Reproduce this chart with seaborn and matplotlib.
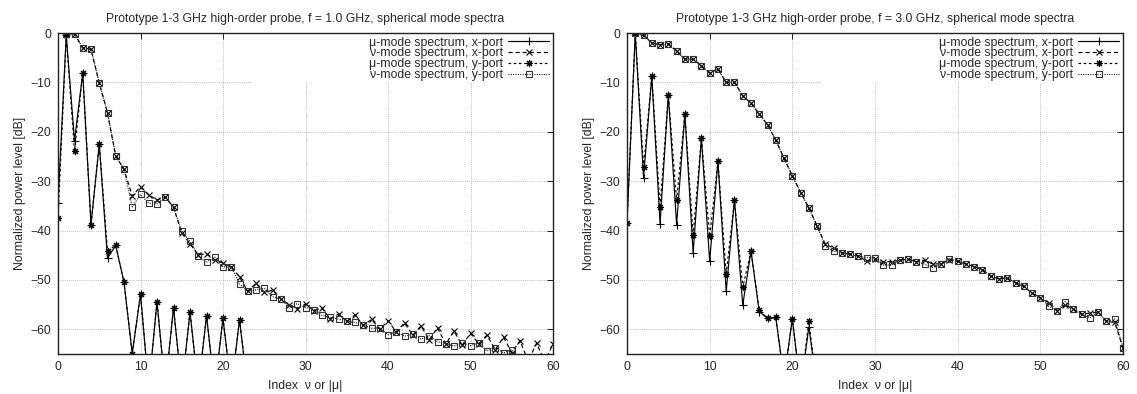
import numpy as np
import pandas as pd
import matplotlib
matplotlib.use("Agg")
import matplotlib.pyplot as plt
import seaborn as sns

# ---------------- data ----------------
# mu-mode index 0..23, nu-mode index 1..60
mu_idx = list(range(0, 24))
nu_idx = list(range(1, 61))

# f = 1.0 GHz
mu_x_1g = [-34.4, -0.5, -21.8, -8.1, -38.8, -22.5, -45.6, -43.0, -50.5, -64.9,
           -52.9, -72, -54.4, -72, -55.6, -72, -56.5, -72, -57.3, -72,
           -57.8, -72, -58.1, -72]
mu_y_1g = [-37.5, -0.5, -23.9, -8.1, -38.8, -22.5, -44.1, -43.0, -50.5, -64.9,
           -52.9, -72, -54.4, -72, -55.6, -72, -56.5, -72, -57.3, -72,
           -57.8, -72, -58.1, -72]
nu_x_1g = [-0.3, -0.2, -3.0, -3.3, -10.1, -16.2, -24.9, -27.6, -33.0, -31.1,
           -32.8, -33.8, -33.2, -35.3, -40.5, -42.7, -44.9, -44.7, -45.9, -46.6,
           -47.3, -49.4, -52.3, -50.7, -52.5, -52.1, -53.8, -55.0, -55.8, -54.9,
           -56.2, -55.7, -57.9, -56.9, -58.4, -57.1, -59.2, -58.0, -60.0, -58.3,
           -60.5, -58.7, -61.2, -59.3, -62.1, -59.7, -63.0, -60.4, -63.2, -60.8,
           -62.9, -61.2, -64.1, -61.6, -64.7, -62.3, -66.5, -62.8, -66.5, -63.0]
nu_y_1g = [-0.3, -0.2, -3.0, -3.3, -10.1, -16.2, -24.9, -27.6, -35.2, -32.7,
           -34.5, -34.6, -33.2, -35.3, -40.1, -42.2, -45.2, -46.4, -45.4, -47.4,
           -47.3, -50.8, -52.3, -52.0, -51.7, -53.4, -53.8, -55.6, -54.8, -55.6,
           -56.0, -57.2, -57.6, -57.9, -58.4, -58.6, -59.2, -59.8, -59.7, -61.1,
           -60.5, -61.4, -61.0, -62.0, -61.3, -62.5, -62.9, -63.4, -62.8, -63.3,
           -62.7, -64.4, -63.7, -64.8, -64.1, -66.0, -66.5, -67.0, -67.0, -67.5]

# f = 3.0 GHz
mu_x_3g = [-38.4, -0.1, -29.3, -8.8, -38.6, -12.5, -38.8, -16.4, -44.5, -21.3,
           -46.2, -26.0, -52.3, -33.8, -55.1, -44.2, -56.4, -57.8, -57.6, -70,
           -57.9, -72, -59.5, -72]
mu_y_3g = [-38.4, -0.1, -27.1, -8.8, -35.3, -12.5, -33.9, -16.4, -40.9, -21.3,
           -41.2, -26.0, -48.8, -33.8, -51.5, -44.2, -56.1, -57.8, -57.6, -70,
           -57.9, -72, -58.3, -72]
nu_x_3g = [-0.1, -0.5, -2.0, -2.4, -2.2, -3.7, -5.3, -5.3, -6.6, -8.1,
           -7.3, -10.0, -10.0, -12.7, -14.2, -16.4, -18.6, -21.7, -25.4, -28.9,
           -32.3, -35.4, -39.1, -42.8, -43.5, -44.5, -44.8, -45.2, -46.2, -45.7,
           -46.3, -46.3, -46.0, -45.8, -46.3, -46.0, -46.8, -46.7, -46.0, -46.2,
           -46.8, -47.3, -47.9, -49.2, -49.8, -49.6, -50.6, -51.3, -52.7, -53.6,
           -54.6, -56.2, -55.1, -55.9, -57.0, -56.7, -56.5, -58.4, -58.6, -63.8]
nu_y_3g = [-0.1, -0.5, -2.0, -2.4, -2.2, -3.7, -5.3, -5.3, -6.6, -8.1,
           -7.3, -10.0, -10.0, -12.7, -14.2, -16.4, -18.6, -21.7, -25.4, -28.9,
           -32.3, -35.4, -39.1, -43.2, -44.2, -44.5, -44.8, -45.2, -45.5, -45.5,
           -47.0, -47.0, -46.0, -45.8, -46.3, -46.8, -47.5, -46.7, -45.7, -46.2,
           -46.8, -47.3, -47.9, -49.2, -49.8, -49.6, -50.6, -51.3, -52.7, -53.6,
           -55.3, -56.2, -54.4, -55.9, -57.0, -57.7, -56.5, -58.4, -57.9, -63.8]

titles = ["Prototype 1-3 GHz high-order probe, f = 1.0 GHz, spherical mode spectra",
          "Prototype 1-3 GHz high-order probe, f = 3.0 GHz, spherical mode spectra"]
labels = ["\u03bc-mode spectrum, x-port", "\u03bd-mode spectrum, x-port",
          "\u03bc-mode spectrum, y-port", "\u03bd-mode spectrum, y-port"]
xlabel = "Index  \u03bd or |\u03bc|"
ylabel = "Normalized power level [dB]"
xticks = [0, 10, 20, 30, 40, 50, 60]
yticks = [0, -10, -20, -30, -40, -50, -60]

# ---------------- style ----------------
sns.set_style("white")
plt.rcParams['font.family'] = ['Liberation Sans', 'DejaVu Sans']
FS = 8.8
plt.rcParams['font.size'] = FS

fig = plt.figure(figsize=(11.37, 3.94), dpi=100)
ax1 = fig.add_axes([58/1137, 40/394, (553-58)/1137, (354-33)/394])
ax2 = fig.add_axes([627/1137, 40/394, (1123-627)/1137, (354-33)/394])

panels = [
    (ax1, titles[0], mu_x_1g, nu_x_1g, mu_y_1g, nu_y_1g),
    (ax2, titles[1], mu_x_3g, nu_x_3g, mu_y_3g, nu_y_3g),
]

for ax, title, mux, nux, muy, nuy in panels:
    ax.grid(True, color='#aaaaaa', linestyle=(0, (1, 1.5)), linewidth=0.6, zorder=0)
    ax.set_axisbelow(True)
    # white box behind the legend (blanks the grid there, gnuplot style)
    ax.add_patch(plt.Rectangle((0.392, 0.843), 0.608, 0.157, transform=ax.transAxes,
                               facecolor='white', edgecolor='none', zorder=1))
    common = dict(ax=ax, color='black', linewidth=0.85, sort=False, zorder=3)
    sns.lineplot(x=mu_idx, y=mux, marker='+', markersize=5.5, markeredgewidth=0.8,
                 markeredgecolor='black', linestyle='-', label=labels[0], **common)
    sns.lineplot(x=nu_idx, y=nux, marker='x', markersize=4.8, markeredgewidth=0.8,
                 markeredgecolor='black', linestyle=(0, (3.5, 2.5)),
                 label=labels[1], **common)
    sns.lineplot(x=mu_idx, y=muy, marker=(8, 2, 0), markersize=5, markeredgewidth=0.8,
                 markeredgecolor='black', linestyle=(0, (2.2, 2.2)),
                 label=labels[2], **common)
    sns.lineplot(x=nu_idx, y=nuy, marker='s', markersize=3.8, markeredgewidth=0.8,
                 markerfacecolor='none', markeredgecolor='#333333',
                 linestyle=(0, (0.8, 1.2)), label=labels[3], **common)

    ax.set_xlim(0, 60)
    ax.set_ylim(-65, 0)
    ax.set_xticks(xticks)
    ax.set_yticks(yticks)
    ax.set_title(title, fontsize=FS, pad=8)
    ax.set_xlabel(xlabel, fontsize=FS, labelpad=5)
    ax.set_ylabel(ylabel, fontsize=FS, labelpad=3)
    ax.tick_params(axis='both', which='both', direction='in', length=4, width=0.7,
                   top=True, right=True, labelsize=FS, pad=5, color='#222222')
    for sp in ax.spines.values():
        sp.set_color('#222222')
        sp.set_linewidth(1.0)
        sp.set_zorder(5)
    leg = ax.legend(loc='upper right', frameon=False, markerfirst=False,
                    handlelength=3.4, handletextpad=0.4, labelspacing=-0.1,
                    borderaxespad=0.3, borderpad=0.0, fontsize=FS)
    leg.set_zorder(6)

fig.savefig("out.png", dpi=100, facecolor='white')
